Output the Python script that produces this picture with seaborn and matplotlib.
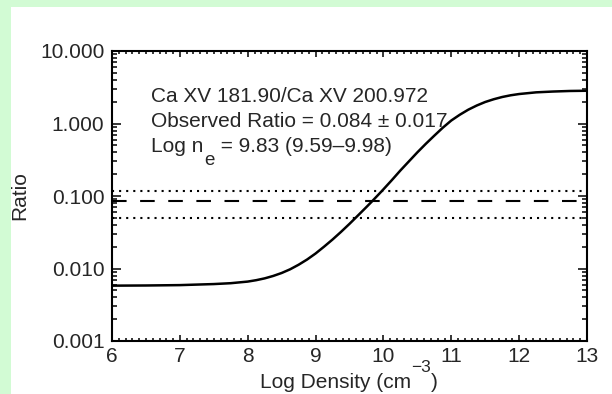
import numpy as np
import pandas as pd
import matplotlib
matplotlib.use("Agg")
import matplotlib.pyplot as plt
from matplotlib.patches import Rectangle
from matplotlib.ticker import FixedLocator, MultipleLocator, LogLocator, NullFormatter
import seaborn as sns

# Theoretical Ca XV 181.90 / 200.972 line ratio vs. log electron density
log_density = [6.0, 6.5, 7.0, 7.5, 7.75, 8.0, 8.125, 8.25, 8.375, 8.5, 8.625,
               8.75, 8.875, 9.0, 9.125, 9.25, 9.375, 9.5, 9.59, 9.75, 9.83,
               9.98, 10.125, 10.25, 10.375, 10.5, 10.625, 10.75, 10.875, 11.0,
               11.125, 11.25, 11.375, 11.5, 11.625, 11.75, 11.875, 12.0, 12.25,
               12.5, 12.75, 13.0]
ratio = [0.0058, 0.00583, 0.0059, 0.0061, 0.00627, 0.0066, 0.0069, 0.00731,
         0.00789, 0.00867, 0.00975, 0.01127, 0.0133, 0.0161, 0.0200, 0.0251,
         0.0320, 0.0413, 0.050, 0.0705, 0.084, 0.118, 0.166, 0.225, 0.300,
         0.400, 0.525, 0.680, 0.875, 1.10, 1.32, 1.55, 1.77, 1.98, 2.16,
         2.32, 2.45, 2.55, 2.69, 2.76, 2.81, 2.83]

# Observed ratio and its upper / lower bounds
observed_ratio = 0.084
bounds = [0.118, 0.050]

x_ticks = [6, 7, 8, 9, 10, 11, 12, 13]
y_ticks = [0.001, 0.01, 0.1, 1.0, 10.0]
y_tick_labels = ["0.001", "0.010", "0.100", "1.000", "10.000"]

title_line = "Ca XV 181.90/Ca XV 200.972"
ratio_line = "Observed Ratio = 0.084 \u00b1 0.017"
density_parts = ["Log n", "e", " = 9.83 (9.59\u20139.98)"]
xlabel_parts = ["Log Density (cm", "\u22123", ")"]
ylabel_text = "Ratio"

FS = 15

sns.set_style("ticks")
plt.rcParams["font.family"] = ["Liberation Sans", "DejaVu Sans"]

fig = plt.figure(figsize=(6.12, 3.94), dpi=100)
fig.patch.set_facecolor("#d2fbd4")
fig.add_artist(Rectangle((11 / 612, 0), 1 - 11 / 612, 1 - 7 / 394,
                         transform=fig.transFigure, facecolor="white",
                         edgecolor="none", zorder=-5))

ax = fig.add_axes([112 / 612, 1 - 341 / 394, 475 / 612, 290 / 394])
ax.set_facecolor("white")

df = pd.DataFrame({"logn": log_density, "ratio": ratio})
sns.lineplot(data=df, x="logn", y="ratio", ax=ax, color="black", lw=1.8)

ax.axhline(observed_ratio, color="black", lw=1.5, ls=(0, (7, 6.5)))
for b in bounds:
    ax.axhline(b, color="black", lw=1.5, ls=(0, (1, 2.4)))

ax.set_yscale("log")
ax.set_xlim(6, 13)
ax.set_ylim(0.001, 10)

ax.xaxis.set_major_locator(FixedLocator(x_ticks))
ax.xaxis.set_minor_locator(MultipleLocator(0.1))
ax.set_xticklabels([str(t) for t in x_ticks])
ax.yaxis.set_major_locator(FixedLocator(y_ticks))
ax.yaxis.set_minor_locator(LogLocator(base=10, subs=np.arange(2, 10)))
ax.yaxis.set_minor_formatter(NullFormatter())
ax.set_yticklabels(y_tick_labels)

for s in ax.spines.values():
    s.set_linewidth(1.5)
    s.set_color("black")
    s.set_visible(True)

ax.tick_params(axis="both", which="both", direction="in", color="black",
               top=True, right=True, width=1.1, labelsize=FS)
ax.tick_params(axis="y", which="major", length=6.8, pad=5.5)
ax.tick_params(axis="y", which="minor", length=3.4)
ax.tick_params(axis="x", which="major", length=4.2, pad=4)
ax.tick_params(axis="x", which="minor", length=2.1)
ax.set_xlabel("")
ax.set_ylabel("")

# Annotation block (baseline aligned)
tx = 0.082
ax.text(tx, 0.824, title_line, transform=ax.transAxes, fontsize=FS,
        va="baseline", ha="left")
ax.text(tx, 0.738, ratio_line, transform=ax.transAxes, fontsize=FS,
        va="baseline", ha="left")
y3 = 0.652
t_log = ax.text(tx, y3, density_parts[0], transform=ax.transAxes,
                fontsize=FS, va="baseline", ha="left")
t_sub = ax.annotate(density_parts[1], xy=(1, y3),
                    xycoords=(t_log, "axes fraction"),
                    xytext=(1, -13), textcoords="offset pixels",
                    fontsize=13.5, va="baseline", ha="left")
ax.annotate(density_parts[2], xy=(1, y3), xycoords=(t_sub, "axes fraction"),
            xytext=(0, 0), textcoords="offset pixels",
            fontsize=FS, va="baseline", ha="left")

# X axis label with raised exponent
yb = 6 / 394
t_x = fig.text(260 / 612, yb, xlabel_parts[0], fontsize=FS,
               va="baseline", ha="left")
t_sup = fig.add_artist(plt.Annotation(
    xlabel_parts[1], xy=(1, yb), xycoords=(t_x, "figure fraction"),
    xytext=(0, 16), textcoords="offset pixels", fontsize=12.5,
    va="baseline", ha="left"))
fig.add_artist(plt.Annotation(
    xlabel_parts[2], xy=(1, yb), xycoords=(t_sup, "figure fraction"),
    xytext=(0, 0), textcoords="offset pixels", fontsize=FS,
    va="baseline", ha="left"))

# Y axis label
fig.text(20 / 612, 1 - 196 / 394, ylabel_text, fontsize=FS, rotation=90,
         ha="center", va="center")

fig.savefig("out.png", dpi=100, facecolor=fig.get_facecolor())
